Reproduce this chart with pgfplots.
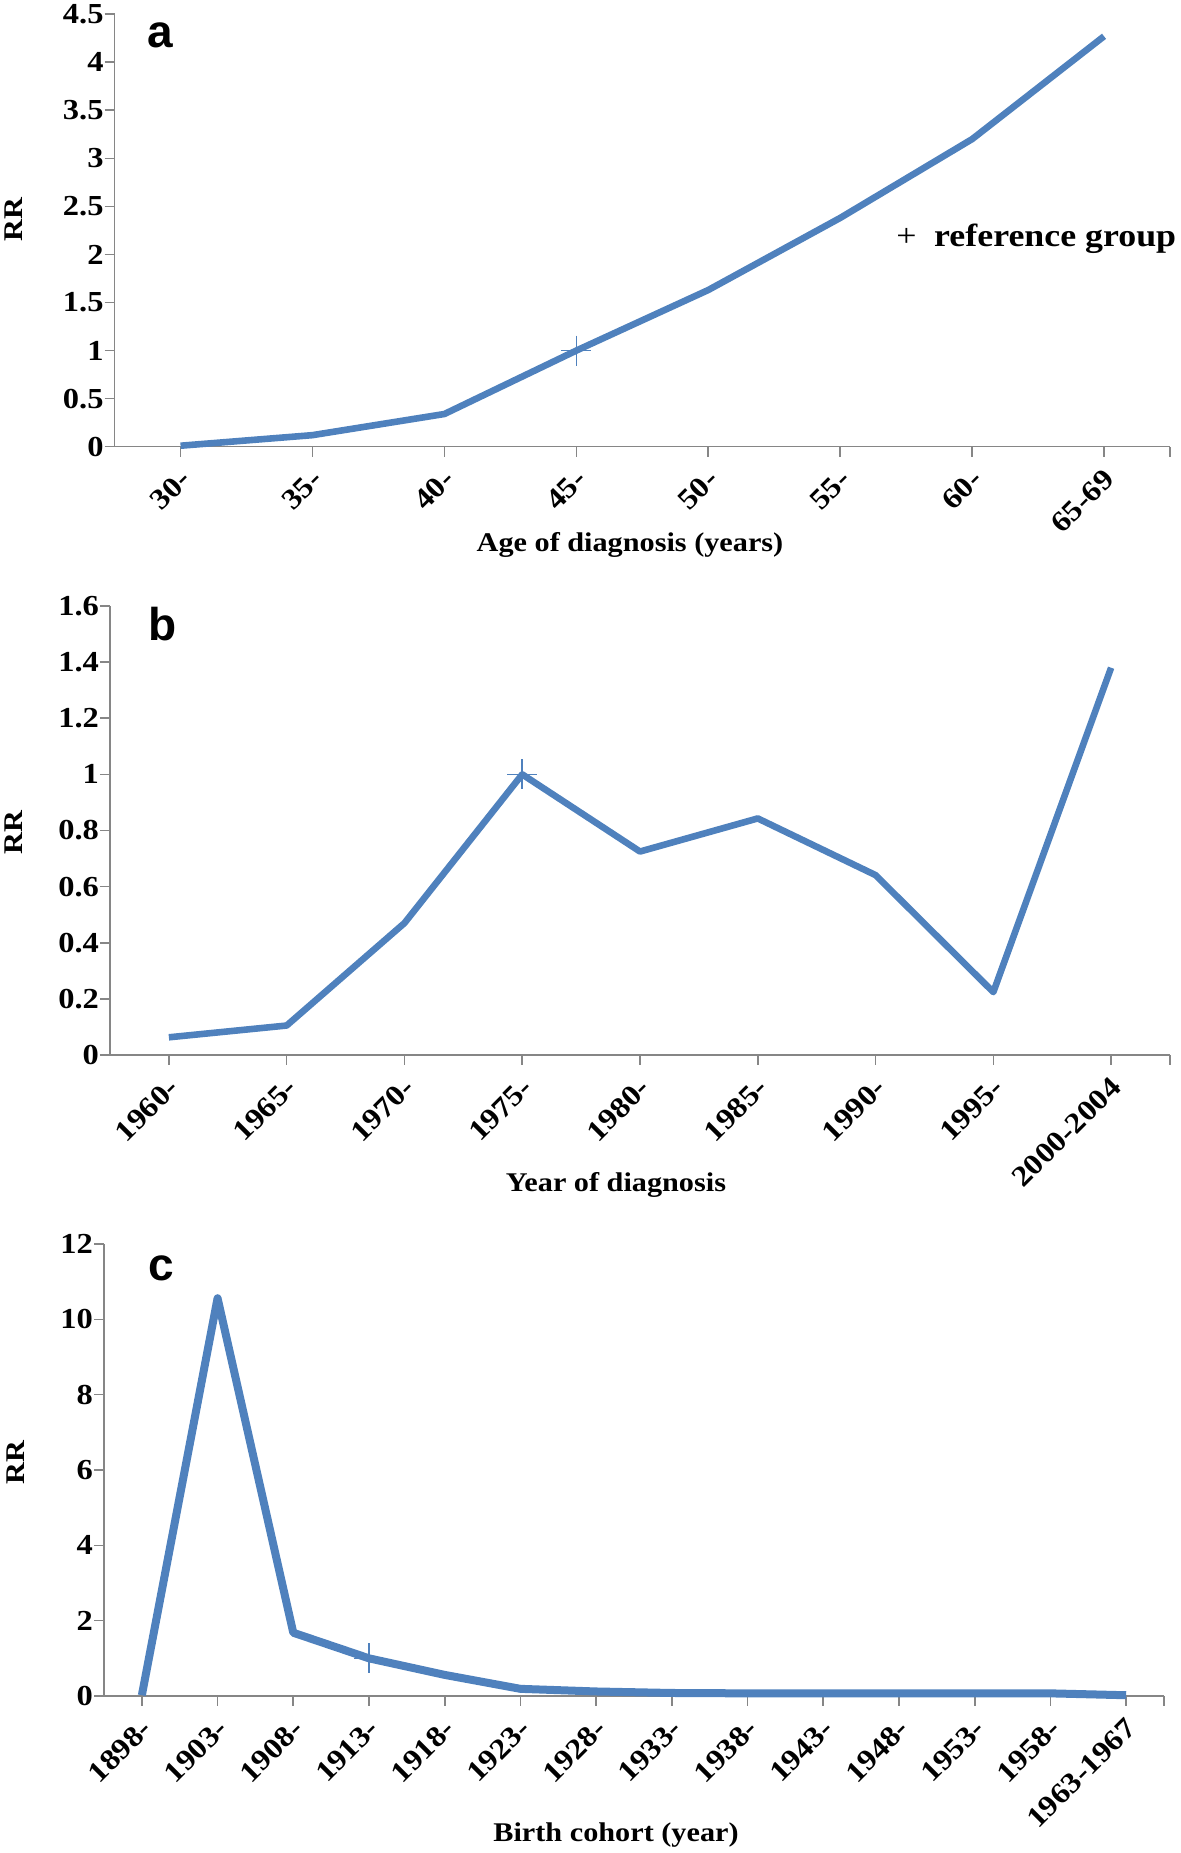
\documentclass[border=0pt]{standalone}
\usepackage{fontspec}
\setmainfont{Liberation Serif}
\newfontfamily\tickfont{Liberation Serif}[FakeStretch=1.12]
\newfontfamily\letterfont{Liberation Sans}
\usepackage{pgfplots}
\pgfplotsset{compat=1.18}
\definecolor{lineblue}{HTML}{4F81BD}
\definecolor{axgray}{HTML}{868686}
\pgfplotsset{
  rrstyle/.style={
    scale only axis,
    anchor=south west,
    axis x line=bottom, axis y line=left,
    axis line style={-, draw=axgray, line width=0.8pt},
    tick align=outside,
    major tick length=5pt,
    tick style={draw=axgray, line width=0.8pt},
    ymin=0,
    ticklabel style={font=\tickfont\bfseries\fontsize{14.5}{16}\selectfont},
    /pgf/number format/assume math mode=true,
    xticklabel style={rotate=45, anchor=east, yshift=-8pt, xshift=-1pt},
    yticklabel style={xshift=3pt},
    extra x tick labels={},
    clip=false,
  },
  refmark/.style={only marks, mark=+, mark size=7.5pt, color=lineblue, mark options={line width=0.8pt}},
}
\begin{document}
\begin{tikzpicture}
\useasboundingbox (0,0) rectangle (590.5pt,926.5pt);
% ---------- panel a ----------
\begin{axis}[rrstyle,
  at={(57.3pt,703.15pt)}, width=527.7pt, height=216.25pt,
  xmin=-0.5, xmax=7.5, ymax=4.5,
  xtick={0,1,2,3,4,5,6,7},
  xticklabels={30-,35-,40-,45-,50-,55-,60-,65-69},
  extra x ticks={7.5},
  ytick={0,0.5,1,1.5,2,2.5,3,3.5,4,4.5}]
\addplot[lineblue, line width=3.3pt, line join=round] coordinates {
(0,0.01) (1,0.12) (2,0.34) (3,1.0) (4,1.63) (5,2.38) (6,3.2) (7,4.27)};
\addplot[refmark] coordinates {(3,1)};
\end{axis}
% ---------- panel b ----------
\begin{axis}[rrstyle,
  at={(55pt,399pt)}, width=530pt, height=224.5pt,
  xmin=-0.5, xmax=8.5, ymax=1.6,
  xtick={0,1,2,3,4,5,6,7,8},
  xticklabels={1960-,1965-,1970-,1975-,1980-,1985-,1990-,1995-,2000-2004},
  extra x ticks={8.5},
  ytick={0,0.2,0.4,0.6,0.8,1,1.2,1.4,1.6}]
\addplot[lineblue, line width=3.3pt, line join=round] coordinates {
(0,0.063) (1,0.105) (2,0.47) (3,1.0) (4,0.725) (5,0.843) (6,0.641) (7,0.224) (8,1.38)};
\addplot[refmark] coordinates {(3,1)};
\end{axis}
% ---------- panel c ----------
\begin{axis}[rrstyle,
  at={(52pt,78.5pt)}, width=530pt, height=226pt,
  xmin=-0.5, xmax=13.5, ymax=12,
  xtick={0,1,2,3,4,5,6,7,8,9,10,11,12,13},
  xticklabels={1898-,1903-,1908-,1913-,1918-,1923-,1928-,1933-,1938-,1943-,1948-,1953-,1958-,1963-1967},
  extra x ticks={13.5},
  ytick={0,2,4,6,8,10,12}]
\addplot[lineblue, line width=4pt, line join=round] coordinates {
(0,0.02) (1,10.56) (2,1.68) (3,1.0) (4,0.56) (5,0.19) (6,0.12) (7,0.08) (8,0.07) (9,0.07) (10,0.07) (11,0.07) (12,0.07) (13,0.02)};
\addplot[refmark] coordinates {(3,1)};
\end{axis}
% ---------- texts ----------
\begin{scope}[every node/.style={font=\tickfont\bfseries\fontsize{13.5}{16}\selectfont}]
\node at (315pt,654pt) {Age of diagnosis (years)};
\node at (308pt,334pt) {Year of diagnosis};
\node at (308pt,9pt) {Birth cohort (year)};
\node[rotate=90] at (7pt,816.5pt) {RR};
\node[rotate=90] at (7pt,510pt) {RR};
\node[rotate=90] at (8pt,195pt) {RR};
\end{scope}
\node[anchor=base west, inner sep=0pt, font=\tickfont\fontsize{16}{18}\selectfont] at (448pt,803pt) {+\hspace{0.55em}\bfseries reference group};
\begin{scope}[every node/.style={font=\letterfont\bfseries\fontsize{23}{26}\selectfont, inner sep=0pt}]
\node at (80pt,909pt) {a};
\node at (81.5pt,614.5pt) {b};
\node at (80.5pt,292.5pt) {c};
\end{scope}
\end{tikzpicture}
\end{document}
